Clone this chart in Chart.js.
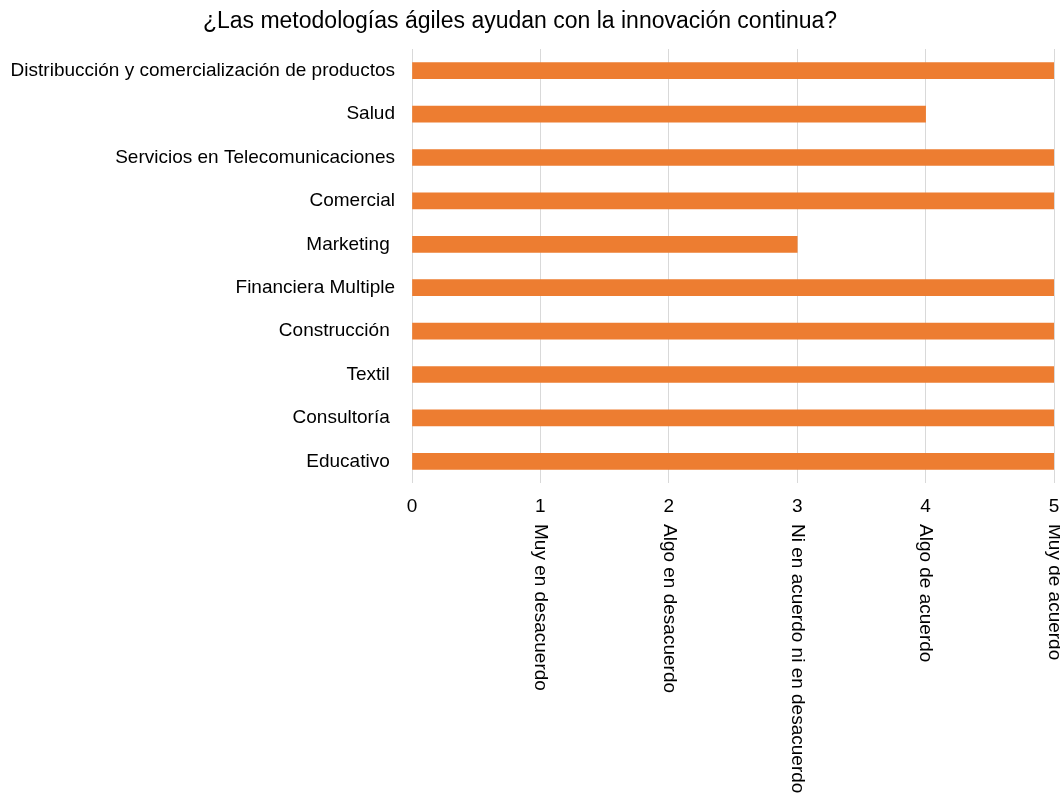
<!DOCTYPE html>
<html>
<head>
<meta charset="utf-8">
<script src="https://cdn.jsdelivr.net/npm/chart.js@4"></script>
<style>
  html, body { margin: 0; padding: 0; background: #fff; }
</style>
</head>
<body>
<canvas id="agileChart" width="1060" height="793"></canvas>
<script>
const sectors = [
    'Distribucción y comercialización de productos',
    'Salud',
    'Servicios en Telecomunicaciones',
    'Comercial',
    'Marketing ',
    'Financiera Multiple',
    'Construcción ',
    'Textil ',
    'Consultoría ',
    'Educativo '
];
const scores = [5, 4, 5, 5, 3, 5, 5, 5, 5, 5];
const scaleLabels = [
    'Muy en desacuerdo',
    'Algo en desacuerdo',
    'Ni en acuerdo ni en desacuerdo',
    'Algo de acuerdo',
    'Muy de acuerdo'
];
const chartTitle = '¿Las metodologías ágiles ayudan con la innovación continua?';

const FONT = '"Liberation Sans", Arial, sans-serif';

// title sits a little left of centre, so it is drawn by hand
const titleText = {
    id: 'titleText',
    afterDraw(chart) {
        const c = chart.ctx;
        c.save();
        c.font = '23px ' + FONT;
        c.fillStyle = '#000';
        c.textAlign = 'center';
        c.textBaseline = 'middle';
        c.fillText(chartTitle, 520, 22);
        c.restore();
    }
};

// draws the answer wording under each tick, turned to read downwards
const likertLabels = {
    id: 'likertLabels',
    afterDraw(chart) {
        const { ctx, chartArea } = chart;
        const x = chart.scales.x;
        ctx.save();
        ctx.font = '19px ' + FONT;
        ctx.fillStyle = '#000';
        ctx.textAlign = 'left';
        ctx.textBaseline = 'middle';
        scaleLabels.forEach((text, i) => {
            ctx.save();
            ctx.translate(x.getPixelForValue(i + 1), chartArea.bottom + 41);
            ctx.rotate(Math.PI / 2);
            ctx.fillText(text, 0, 0);
            ctx.restore();
        });
        ctx.restore();
    }
};

const ctx = document.getElementById('agileChart').getContext('2d');
const chart = new Chart(ctx, {
    type: 'bar',
    data: {
        labels: sectors,
        datasets: [{
            data: scores,
            backgroundColor: '#ED7D31',
            barThickness: 16
        }]
    },
    options: {
        indexAxis: 'y',
        responsive: false,
        animation: false,
        layout: { padding: { top: 49, right: 6 } },
        plugins: {
            legend: { display: false },
            tooltip: { enabled: false },
            title: { display: false }
        },
        scales: {
            x: {
                min: 0,
                max: 5,
                ticks: {
                    stepSize: 1,
                    color: '#000',
                    padding: 12,
                    font: { family: FONT, size: 19 }
                },
                grid: { color: '#D9D9D9', drawTicks: false },
                border: { display: false },
                afterFit(scale) {
                    scale.height = 310;
                    scale.paddingLeft = 0;
                    scale.paddingRight = 0;
                }
            },
            y: {
                ticks: {
                    color: '#000',
                    padding: 17,
                    font: { family: FONT, size: 19 }
                },
                grid: { display: false, drawTicks: false },
                border: { display: false },
                afterFit(scale) { scale.width = 412; }
            }
        }
    },
    plugins: [titleText, likertLabels]
});
</script>
</body>
</html>
